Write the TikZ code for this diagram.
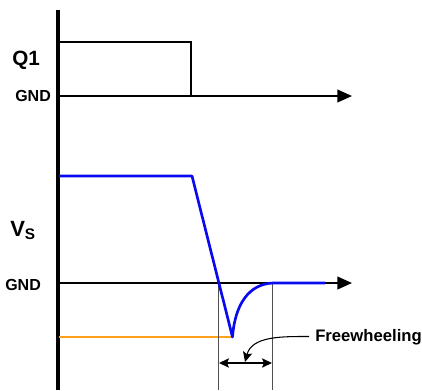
\documentclass[tikz,border=0pt]{standalone}
\usepackage{fontspec}
\setmainfont{Liberation Sans}
\usepackage{tikz}
\usetikzlibrary{
  arrows.meta,
  positioning,
  calc
}
\definecolor{SignalBlue}{HTML}{0A0AF0}
\definecolor{LevelOrange}{HTML}{FFA21A}
\definecolor{GuideGray}{HTML}{505050}
\tikzset{
  axis/.style={
    line width=3pt
  },
  ground/.style={
    line width=1.5pt,
    -{Triangle[length=11pt,width=9.5pt]}
  },
  gate/.style={
    line width=1.5pt
  },
  signal/.style={
    line width=2pt,
    draw=SignalBlue,
    line join=round
  },
  level/.style={
    line width=0.8pt,
    draw=LevelOrange
  },
  guide/.style={
    line width=0.8pt,
    draw=GuideGray
  },
  span/.style={
    line width=1pt,
    {Stealth[length=7.5pt,width=7pt,inset=1.5pt]}-{Stealth[length=7.5pt,width=7pt,inset=1.5pt]}
  },
  pointer/.style={
    line width=0.8pt,
    -{Stealth[length=7.5pt,width=7pt,inset=1.5pt]}
  },
  label/.style={
    inner sep=0pt,
    anchor=base west,
    font=\bfseries
  }
}

\begin{document}
\begin{tikzpicture}[x=0.75pt,y=-0.75pt]

  \useasboundingbox (0,0) rectangle (422,390);

  % time axis (vertical bar)
  \coordinate (axTop) at (57.5,10);
  \coordinate (axBot) at (57.5,390);
  \draw[axis] (axTop) -- (axBot);

  % Q1 trace
  \coordinate (qHi) at (59,42);
  \coordinate (qFall) at (191,42);
  \coordinate (qLo) at (191,96);
  \coordinate (gndA) at (59,96);
  \coordinate (gndAend) at (352,96);
  \draw[ground] (gndA) -- (gndAend);
  \draw[gate] (qHi) -- (qFall) -- (qLo);

  \node[label, font=\fontsize{15.5}{18}\selectfont\bfseries] (q1) at (12,65) {Q1};
  \node[label, font=\fontsize{12}{14}\selectfont\bfseries] (gndq) at (15,101.5) {GND};

  % Vs trace
  \coordinate (gndB) at (59,283);
  \coordinate (gndBend) at (352,283);
  \coordinate (vHi) at (59,176);
  \coordinate (vFall) at (192,176);
  \coordinate (vMin) at (232.5,337);
  \coordinate (vBack) at (273,283);
  \coordinate (vEnd) at (325,283);
  \coordinate (lvlStart) at (59,337);

  \draw[ground] (gndB) -- (gndBend);
  \draw[level] (lvlStart) -- (vMin);

  % freewheeling window
  \coordinate (winL) at (218.5,283);
  \coordinate (winR) at (272.5,283);
  \coordinate (winLb) at (218.5,390);
  \coordinate (winRb) at (272.5,390);
  \draw[guide] (winL) -- (winLb);
  \draw[guide] (winR) -- (winRb);

  \draw[signal] (vHi) -- (vFall) -- (vMin)
    .. controls (235,304) and (249,284) .. (vBack) -- (vEnd);

  \node[label, font=\fontsize{16.5}{18}\selectfont\bfseries] (vs) at (10,236)
    {V\raisebox{-0.3ex}{\fontsize{11.5}{12}\selectfont S}};
  \node[label, font=\fontsize{12}{14}\selectfont\bfseries] (gndv) at (5,290) {GND};

  \coordinate (spanL) at (219,363);
  \coordinate (spanR) at (272,363);
  \draw[span] (spanL) -- (spanR);

  \node[label, font=\fontsize{12.5}{14}\selectfont\bfseries] (fw) at (315,341) {Freewheeling};
  \coordinate (fwStart) at (309,336.5);
  \coordinate (fwTip) at (245,362);
  \draw[pointer] (fwStart) to[out=180, in=75] (fwTip);

\end{tikzpicture}
\end{document}
